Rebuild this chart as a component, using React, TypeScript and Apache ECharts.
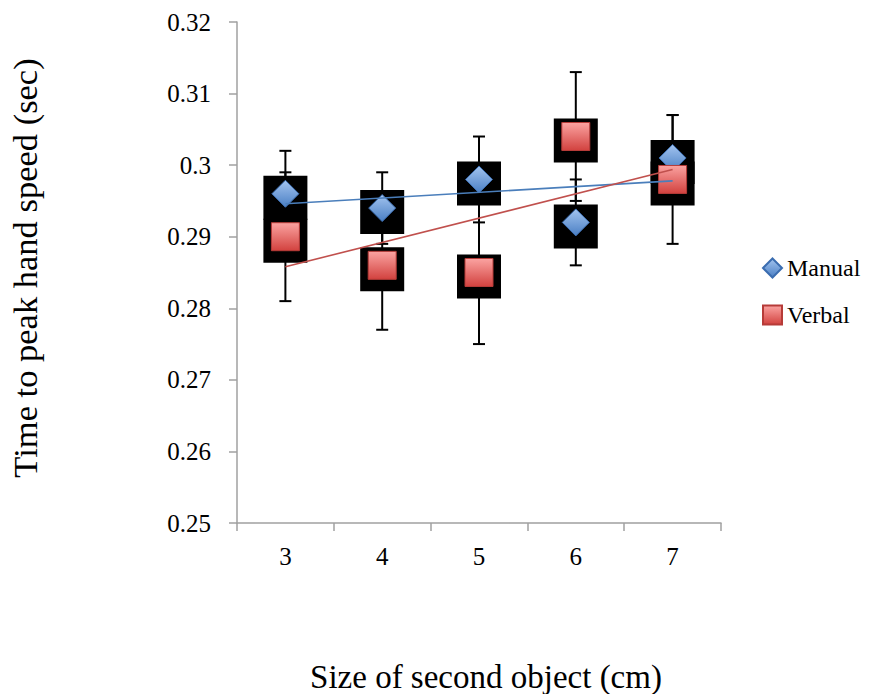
import React, { useEffect, useRef } from "react";
import * as echarts from "echarts";

const categories = ["3", "4", "5", "6", "7"];
const manualValues = [0.296, 0.294, 0.298, 0.292, 0.301];
const verbalValues = [0.29, 0.286, 0.285, 0.304, 0.298];
const manualErrors = [0.006, 0.005, 0.006, 0.006, 0.006];
const verbalErrors = [0.009, 0.009, 0.01, 0.009, 0.009];
const yMin = 0.25;
const yMax = 0.32;
const yInterval = 0.01;

const FONT = "Liberation Serif";

function linearTrend(values: number[]) {
  const n = values.length;
  const mx = (n - 1) / 2;
  const my = values.reduce((a, b) => a + b, 0) / n;
  let sxy = 0;
  let sxx = 0;
  values.forEach((v, i) => {
    sxy += (i - mx) * (v - my);
    sxx += (i - mx) * (i - mx);
  });
  const slope = sxy / sxx;
  return [
    [0, my + slope * (0 - mx)],
    [n - 1, my + slope * (n - 1 - mx)],
  ];
}

function errorData(values: number[], errs: number[]) {
  return values.map((v, i) => [i, v - errs[i], v + errs[i]]);
}

const errorRender = (params: any, api: any) => {
  const x = api.value(0);
  const lo = api.coord([x, api.value(1)]);
  const hi = api.coord([x, api.value(2)]);
  const hw = 6;
  const style = { stroke: "#000", lineWidth: 2 };
  return {
    type: "group",
    children: [
      { type: "line", shape: { x1: lo[0], y1: lo[1], x2: hi[0], y2: hi[1] }, style },
      { type: "line", shape: { x1: lo[0] - hw, y1: lo[1], x2: lo[0] + hw, y2: lo[1] }, style },
      { type: "line", shape: { x1: hi[0] - hw, y1: hi[1], x2: hi[0] + hw, y2: hi[1] }, style },
    ],
  };
};

const blueGrad = new echarts.graphic.LinearGradient(0, 0, 0, 1, [
  { offset: 0, color: "#a3c4ef" },
  { offset: 1, color: "#4a7fc4" },
]);
const redGrad = new echarts.graphic.LinearGradient(0, 0, 0, 1, [
  { offset: 0, color: "#fba3a1" },
  { offset: 1, color: "#d2423f" },
]);

export default function App() {
  const ref = useRef<HTMLDivElement>(null);
  useEffect(() => {
    if (!ref.current) return;
    const chart = echarts.init(ref.current, null, { renderer: "svg" });
    const axisGray = "#a0a0a0";
    chart.setOption({
      animation: false,
      backgroundColor: "#fff",
      textStyle: { fontFamily: FONT },
      grid: { left: 237, right: 152, top: 22, bottom: 171 },
      legend: {
        data: ["Manual", "Verbal"],
        orient: "vertical",
        left: 762,
        top: 256,
        padding: 0,
        itemWidth: 19,
        itemHeight: 19,
        itemGap: 23,
        textStyle: { fontFamily: FONT, fontSize: 24, color: "#000" },
      },
      xAxis: {
        type: "category",
        data: categories,
        boundaryGap: true,
        axisLine: { lineStyle: { color: axisGray, width: 1.5 } },
        axisTick: { show: true, length: 8, lineStyle: { color: axisGray, width: 1.5 } },
        axisLabel: { margin: 21, fontFamily: FONT, fontSize: 25, color: "#000" },
        splitLine: { show: false },
      },
      yAxis: {
        type: "value",
        min: yMin,
        max: yMax,
        interval: yInterval,
        axisLine: { show: true, lineStyle: { color: axisGray, width: 1.5 } },
        axisTick: { show: true, length: 8, lineStyle: { color: axisGray, width: 1.5 } },
        axisLabel: {
          margin: 26,
          fontFamily: FONT,
          fontSize: 25,
          color: "#000",
          formatter: (v: number) => String(parseFloat(v.toFixed(3))),
        },
        splitLine: { show: false },
      },
      graphic: [
        {
          type: "text",
          x: 486,
          y: 677,
          style: {
            text: "Size of second object (cm)",
            fontFamily: FONT,
            fontSize: 33,
            fill: "#000",
            align: "center",
            verticalAlign: "middle",
          },
        },
        {
          type: "text",
          x: 25,
          y: 268,
          rotation: Math.PI / 2,
          style: {
            text: "Time to peak hand speed (sec)",
            fontFamily: FONT,
            fontSize: 34.5,
            fill: "#000",
            align: "center",
            verticalAlign: "middle",
          },
        },
      ],
      series: [
        {
          name: "Manual error",
          type: "custom",
          renderItem: errorRender,
          data: errorData(manualValues, manualErrors),
          z: 1,
          silent: true,
        },
        {
          name: "Verbal error",
          type: "custom",
          renderItem: errorRender,
          data: errorData(verbalValues, verbalErrors),
          z: 1,
          silent: true,
        },
        {
          name: "Manual box",
          type: "scatter",
          data: manualValues,
          symbol: "rect",
          symbolSize: 44,
          symbolOffset: [0, 4],
          itemStyle: { color: "#000", opacity: 1 },
          z: 2,
          silent: true,
        },
        {
          name: "Verbal box",
          type: "scatter",
          data: verbalValues,
          symbol: "rect",
          symbolSize: 44,
          symbolOffset: [0, 4],
          itemStyle: { color: "#000", opacity: 1 },
          z: 2,
          silent: true,
        },
        {
          name: "Manual",
          type: "scatter",
          data: manualValues,
          symbol: "diamond",
          symbolSize: 27,
          itemStyle: { color: blueGrad, borderColor: "#3b6db0", borderWidth: 1, opacity: 1 },
          z: 3,
        },
        {
          name: "Verbal",
          type: "scatter",
          data: verbalValues,
          symbol: "rect",
          symbolSize: 28,
          itemStyle: { color: redGrad, borderColor: "#b63b38", borderWidth: 1, opacity: 1 },
          z: 3,
        },
        {
          name: "Manual trend",
          type: "line",
          data: linearTrend(manualValues),
          symbol: "none",
          lineStyle: { color: "#4a7ebb", width: 1.6 },
          z: 4,
          silent: true,
        },
        {
          name: "Verbal trend",
          type: "line",
          data: linearTrend(verbalValues),
          symbol: "none",
          lineStyle: { color: "#c0504d", width: 1.6 },
          z: 4,
          silent: true,
        },
      ],
    });
    return () => chart.dispose();
  }, []);
  return (
    <div
      ref={ref}
      style={{ position: "fixed", left: 0, top: 0, width: 873, height: 694, background: "#fff" }}
    />
  );
}
